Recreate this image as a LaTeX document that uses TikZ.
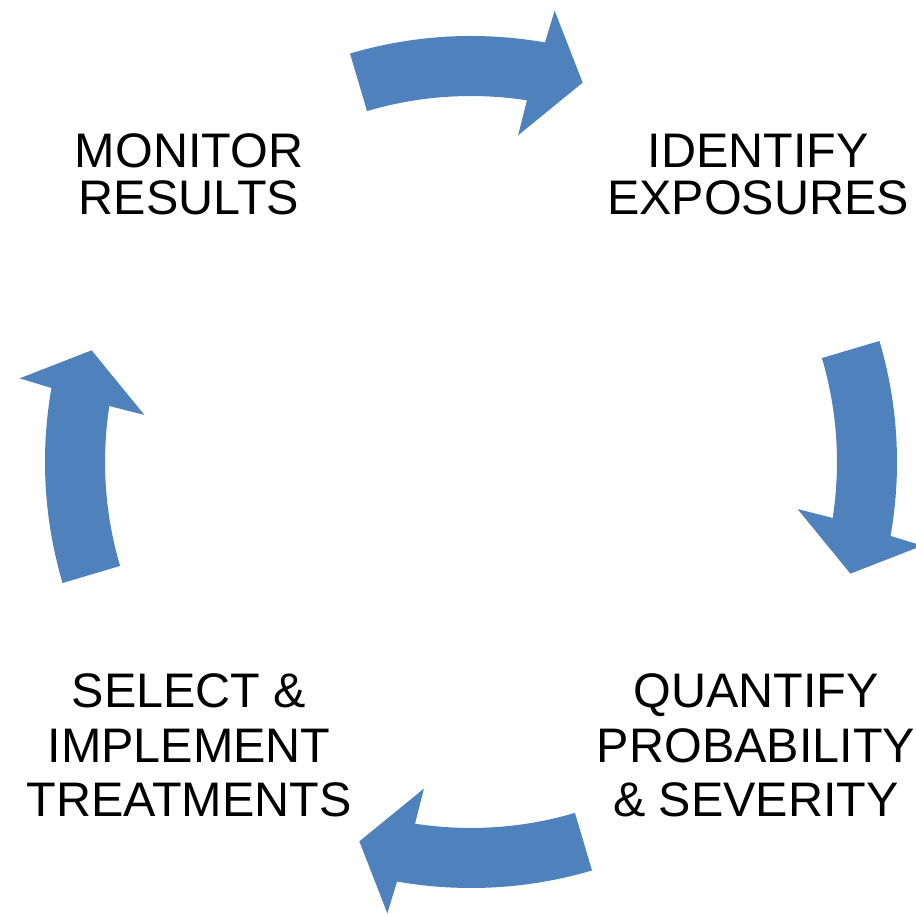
\documentclass[tikz,border=0pt]{standalone}
\usepackage{fontspec}
\setmainfont{Liberation Sans}
\definecolor{arrowblue}{HTML}{4F81BD}
\newcommand\cyclelabel[2]{\vtop{\baselineskip=#1\lineskiplimit=-100pt\halign{\hfil##\hfil\cr#2\cr}}}
\newcommand\cyclearrow[1]{%
  \fill[arrowblue] (#1:426) arc[start angle=#1, end angle=#1-26.5, radius=426]
    -- (#1-27:459) -- (#1-32.9:395.5) -- (#1-24.7:330) -- (#1-25.3:366)
    arc[start angle=#1-25.3, end angle=#1, radius=366] -- cycle;}
\begin{document}
\begin{tikzpicture}[x=1pt,y=1pt,
  lbl/.style={inner sep=0pt, anchor=base, font=\fontsize{48.5}{46.5}\selectfont}]
\useasboundingbox (0,0) rectangle (916,915);
\fill[white] (0,0) rectangle (916,915);
\begin{scope}[shift={(471,453)}]
  \cyclearrow{106.5}
  \cyclearrow{16.5}
  \cyclearrow{-73.5}
  \cyclearrow{196.5}
\end{scope}
\node[lbl] (monitor) at (189,747.3) {\cyclelabel{46.5pt}{MONITOR\cr RESULTS}};
\node[lbl] (identify) at (758,747.3) {\cyclelabel{46.5pt}{IDENTIFY\cr EXPOSURES}};
\node[lbl] (quantify) at (756,207.3) {\cyclelabel{54.4pt}{QUANTIFY\cr PROBABILITY\cr \& SEVERITY}};
\node[lbl] (select) at (189,207.3) {\cyclelabel{54.4pt}{SELECT \&\cr IMPLEMENT\cr TREATMENTS}};
\end{tikzpicture}
\end{document}
